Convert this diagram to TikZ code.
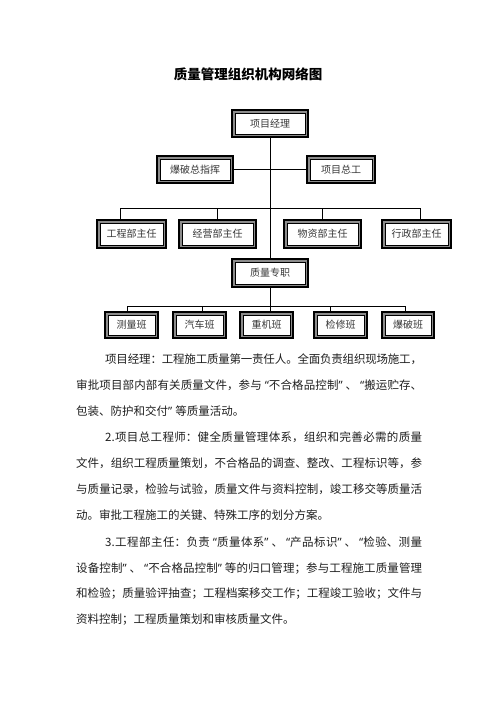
\documentclass[tikz,border=0pt]{standalone}
\usepackage{fontspec}
\setmainfont{Noto Sans CJK SC}
\newfontfamily\latq{Noto Sans}
\usetikzlibrary{calc}
\XeTeXlinebreaklocale "zh"
\XeTeXlinebreakskip=0pt plus 3pt minus 1pt
\definecolor{ink}{rgb}{0.12,0.12,0.12}
\definecolor{boxink}{rgb}{0.22,0.22,0.22}
\definecolor{band}{rgb}{0.55,0.55,0.55}
\newcommand\ql{\kern3pt{\latq “}}
\newcommand\qr{{\latq ”}\kern3pt}
\newcommand\jline[2]{\parbox[b]{#1}{\parindent=0pt\parfillskip=0pt\relax #2}}
\tikzset{
  conn/.style={draw=black, line width=0.9pt},
  lbl/.style={inner sep=0pt, text=boxink, font=\fontsize{10}{12}\selectfont},
  txt/.style={inner sep=0pt, anchor=base west, text=ink, font=\fontsize{11.5}{13}\selectfont},
}
\newcommand\obox[6]{%
  \coordinate (#1-a) at (#2,#3);
  \coordinate (#1-b) at (#4,#5);
  \fill[white] (#1-a) rectangle (#1-b);
  \draw[black, line width=2.2pt] ([shift={(1.1,1.1)}]#1-a) rectangle ([shift={(-1.1,-1.1)}]#1-b);
  \draw[band, line width=1.3pt] ([shift={(2.85,2.85)}]#1-a) rectangle ([shift={(-2.85,-2.85)}]#1-b);
  \draw[black, line width=0.7pt] ([shift={(3.85,3.85)}]#1-a) rectangle ([shift={(-3.85,-3.85)}]#1-b);
  \node[lbl, minimum width={#4pt-#2pt}, minimum height={#5pt-#3pt}] (#1) at ($(#1-a)!0.5!(#1-b)$) {#6};
}
\begin{document}
\begin{tikzpicture}[x=1pt, y=-1pt]
\fill[white] (0,0) rectangle (496,702);
\useasboundingbox (0,0) rectangle (496,702);

\node[inner sep=0pt, text=black, font=\bfseries\fontsize{13.5}{15}\selectfont] (title) at (248,74) {质量管理组织机构网络图};

\coordinate (b1a) at (120,208);
\coordinate (b1b) at (217,208);
\coordinate (b1c) at (322,208);
\coordinate (b1d) at (420,208);
\coordinate (b2a) at (127,306);
\coordinate (b2b) at (202,306);
\coordinate (b2c) at (270,306);
\coordinate (b2d) at (330,306);
\coordinate (b2e) at (405,306);

\obox{pm}{231}{109}{309}{138}{项目经理}
\obox{bp}{156}{155}{234}{184}{爆破总指挥}
\obox{zg}{306}{155}{376}{184}{项目总工}
\obox{d1}{96}{219}{167}{249}{工程部主任}
\obox{d2}{178}{219}{257}{249}{经营部主任}
\obox{d3}{283}{219}{362}{249}{物资部主任}
\obox{d4}{381}{219}{452}{249}{行政部主任}
\obox{qc}{231}{258}{309}{288}{质量专职}
\obox{t1}{104}{311}{159}{339}{测量班}
\obox{t2}{172}{311}{227}{339}{汽车班}
\obox{t3}{239}{311}{294}{339}{重机班}
\obox{t4}{313}{311}{368}{339}{检修班}
\obox{t5}{381}{311}{435}{339}{爆破班}

\draw[conn] (pm.south) -- (qc.north);
\draw[conn] (bp.east) -- (zg.west);
\draw[conn] (b1a) -- (b1d);
\draw[conn] (b1a) -- (b1a |- d1.north);
\draw[conn] (b1b) -- (b1b |- d2.north);
\draw[conn] (b1c) -- (b1c |- d3.north);
\draw[conn] (b1d) -- (b1d |- d4.north);
\draw[conn] (qc.south) -- (b2c);
\draw[conn] (b2a) -- (b2e);
\draw[conn] (b2a) -- (b2a |- t1.north);
\draw[conn] (b2b) -- (b2b |- t2.north);
\draw[conn] (b2c) -- (b2c |- t3.north);
\draw[conn] (b2d) -- (b2d |- t4.north);
\draw[conn] (b2e) -- (b2e |- t5.north);

\node[txt] (l1) at (105,363) {\jline{317pt}{项目经理：工程施工质量第一责任人。全面负责组织现场施工，}};
\node[txt] (l2) at (76,389) {\jline{346pt}{审批项目部内部有关质量文件，参与\ql 不合格品控制\qr 、\ql 搬运贮存、}};
\node[txt] (l3) at (76,415) {包装、防护和交付\qr 等质量活动。};
\node[txt] (l4) at (105,441) {\jline{317pt}{2.项目总工程师：健全质量管理体系，组织和完善必需的质量}};
\node[txt] (l5) at (76,467) {\jline{346pt}{文件，组织工程质量策划，不合格品的调查、整改、工程标识等，参}};
\node[txt] (l6) at (76,493) {\jline{346pt}{与质量记录，检验与试验，质量文件与资料控制，竣工移交等质量活}};
\node[txt] (l7) at (76,519) {动。审批工程施工的关键、特殊工序的划分方案。};
\node[txt] (l8) at (105,546) {\jline{317pt}{3.工程部主任：负责\ql 质量体系\qr 、\ql 产品标识\qr 、\ql 检验、测量}};
\node[txt] (l9) at (76,572) {\jline{346pt}{设备控制\qr 、\ql 不合格品控制\qr 等的归口管理；参与工程施工质量管理}};
\node[txt] (l10) at (76,597) {\jline{346pt}{和检验；质量验评抽查；工程档案移交工作；工程竣工验收；文件与}};
\node[txt] (l11) at (76,623) {资料控制；工程质量策划和审核质量文件。};
\end{tikzpicture}
\end{document}
